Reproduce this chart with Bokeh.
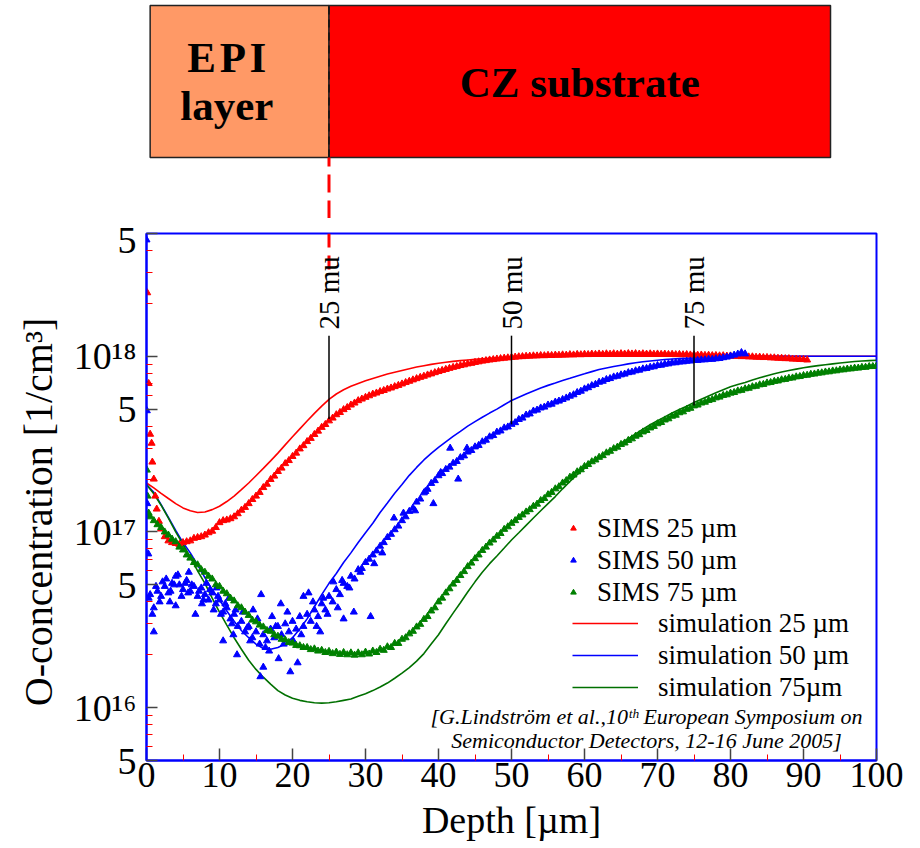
import numpy as np
from bokeh.plotting import figure
from bokeh.layouts import column
from bokeh.models import Range1d, FixedTicker, Legend, LegendItem
from bokeh.core.properties import value
from bokeh.embed import file_html
from bokeh.resources import INLINE

UNIT = 1e16
FONT = "Liberation Serif"

# ---------------- data (concentrations in units of 1e16 1/cm^3) ----------------
sim_depth = list(range(0, 101))
sim_25 = [19.0, 17.8, 16.6, 15.5, 14.5, 13.7, 13.2, 12.9, 13.0, 13.4,
          14.0, 14.9, 16.0, 17.4, 19.0, 20.9, 23.0, 25.4, 28.1, 31.3,
          34.8, 38.6, 42.8, 47.3, 52.0, 56.8, 61.0, 64.5, 67.5, 70.0,
          72.5, 74.8, 77.0, 79.2, 81.2, 83.1, 85.0, 86.8, 88.4, 89.9,
          91.2, 92.4, 93.5, 94.5, 95.3, 96.1, 96.8, 97.4, 97.9, 98.3,
          98.7, 99.0, 99.2, 99.4, 99.6, 99.7, 99.8, 99.9, 100.0, 100.0,
          100.0, 100.0, 100.0, 100.0, 100.0, 100.0, 100.0, 100.0, 100.0, 100.0,
          100.0, 100.0, 100.0, 100.0, 100.0, 100.0, 100.0, 100.0, 100.0, 100.0,
          100.0, 100.0, 100.0, 100.0, 100.0, 100.0, 100.0, 100.0, 100.0, 100.0,
          100.0, 100.0, 100.0, 100.0, 100.0, 100.0, 100.0, 100.0, 100.0, 100.0, 100.0]
sim_50 = [18.6, 16.8, 14.3, 12.1, 10.2, 8.7, 7.6, 6.5, 5.5, 4.7,
          4.1, 3.55, 3.1, 2.75, 2.5, 2.3, 2.17, 2.15, 2.2, 2.3,
          2.5, 2.8, 3.2, 3.75, 4.4, 5.1, 5.8, 6.7, 7.6, 8.7,
          9.9, 11.2, 12.9, 14.6, 16.6, 18.6, 21.0, 23.3, 25.7, 28.0,
          30.3, 32.6, 35.0, 37.4, 40.0, 42.5, 45.0, 47.5, 50.0, 53.0,
          56.0, 58.5, 61.0, 63.5, 66.0, 68.3, 70.5, 72.8, 75.0, 77.3,
          79.5, 81.8, 84.0, 85.8, 87.5, 89.0, 90.5, 91.8, 93.0, 94.0,
          95.0, 95.8, 96.5, 97.0, 97.5, 98.0, 98.5, 98.9, 99.3, 99.6,
          99.8, 99.9, 100.0, 100.0, 100.0, 100.0, 100.0, 100.0, 100.0, 100.0,
          100.0, 100.0, 100.0, 100.0, 100.0, 100.0, 100.0, 100.0, 100.0, 100.0, 100.0]
sim_75 = [18.6, 16.5, 14.2, 12.0, 10.0, 8.5, 7.2, 6.0, 5.1, 4.2,
          3.5, 2.95, 2.5, 2.15, 1.86, 1.65, 1.49, 1.36, 1.25, 1.18,
          1.13, 1.10, 1.08, 1.065, 1.06, 1.065, 1.08, 1.10, 1.12, 1.16,
          1.20, 1.25, 1.31, 1.38, 1.47, 1.57, 1.69, 1.84, 2.03, 2.3,
          2.6, 3.0, 3.45, 3.95, 4.55, 5.2, 5.9, 6.6, 7.3, 8.1,
          9.0, 9.9, 10.9, 12.0, 13.2, 14.5, 15.9, 17.6, 19.4, 21.2,
          23.0, 24.8, 26.5, 28.2, 30.0, 32.0, 34.0, 36.2, 38.5, 40.8,
          43.0, 45.2, 47.5, 49.8, 52.0, 54.5, 57.0, 59.5, 62.0, 64.5,
          67.0, 69.0, 71.0, 73.3, 75.5, 77.5, 79.5, 81.3, 83.0, 84.5,
          86.0, 87.3, 88.5, 89.5, 90.5, 91.5, 92.5, 93.3, 94.0, 94.5, 95.0]

# SIMS 25 um: surface spike, then bulk every 0.5 um from 2.0 to 90.5
sims25_surface_depth = [0.1, 0.3, 0.5, 0.7, 0.8, 1.0, 1.2, 1.4, 1.7]
sims25_surface = [230.0, 70.0, 36.0, 32.0, 25.0, 20.0, 16.0, 13.5, 11.5]
sims25_bulk = [10.4, 9.4, 8.9, 8.7, 8.6, 8.5, 8.7, 8.8, 8.9, 9.2,
               9.3, 9.4, 9.6, 9.9, 10.1, 10.6, 11.3, 11.6, 11.7, 11.9,
               12.2, 12.7, 13.3, 13.8, 14.5, 15.3, 16.0, 16.8, 17.9, 18.7,
               19.9, 20.8, 22.1, 23.1, 24.5, 25.5, 26.9, 28.1, 29.7, 31.0,
               32.7, 34.1, 35.9, 37.5, 39.4, 40.9, 42.9, 44.5, 46.5, 47.9,
               49.7, 51.1, 52.8, 54.2, 55.9, 57.1, 58.4, 59.6, 60.9, 61.8,
               63.0, 63.9, 65.1, 66.0, 67.2, 68.3, 69.6, 70.9, 72.1, 73.4,
               74.6, 75.9, 77.0, 78.3, 79.4, 80.7, 81.9, 83.1, 84.2, 85.4,
               86.5, 87.4, 88.6, 89.4, 90.5, 91.2, 92.3, 93.0, 93.9, 94.5,
               95.3, 95.8, 96.5, 97.0, 97.6, 98.0, 98.6, 98.9, 99.4, 99.6,
               100.1, 100.2, 100.6, 100.5, 101.0, 100.8, 101.3, 101.1, 101.6, 101.4,
               101.9, 101.6, 102.2, 101.8, 102.5, 102.1, 102.7, 102.3, 102.9, 102.5,
               103.1, 102.6, 103.3, 102.8, 103.4, 102.9, 103.5, 103.0, 103.6, 103.1,
               103.5, 103.0, 103.4, 102.9, 103.3, 102.8, 103.1, 102.6, 102.9, 102.4,
               102.7, 102.2, 102.5, 102.0, 102.3, 101.8, 102.0, 101.5, 101.7, 101.2,
               101.4, 100.9, 101.1, 100.6, 100.8, 100.3, 100.5, 100.0, 100.1, 99.6,
               99.7, 99.2, 99.3, 98.8, 98.9, 98.4, 98.5, 98.0, 98.0, 97.5,
               97.5, 97.0, 97.0, 96.4, 96.4, 95.9, 95.8, 95.3]
sims25_bulk_start = 2.0

# SIMS 50 um
sims50_surface_depth = [0.0, 0.05, 0.1, 0.15, 0.25]
sims50_surface = [460.0, 49.0, 14.5, 12.5, 7.5]
sims50_bulk = [4.4, 3.7, 4.6, 4.3, 4.9, 4.5, 5.1, 5.6, 5.0, 4.7,
               5.3, 4.6, 4.9, 4.3, 4.8, 4.4, 4.1, 4.5, 3.9, 4.1,
               3.5, 3.7, 3.2, 3.4, 2.9, 3.1, 2.7, 2.9, 2.5, 2.7,
               2.3, 2.6, 2.4, 2.8, 2.5, 2.9, 2.6, 3.0, 2.7, 3.1,
               2.8, 3.3, 2.9, 3.4, 3.1, 3.6, 3.3, 3.9, 3.6, 4.3,
               4.0, 4.7, 4.4, 5.1, 4.9, 5.6, 5.4, 6.1, 6.2, 6.7,
               7.0, 7.4, 7.8, 8.3, 8.7, 9.3, 9.7, 10.3, 10.8, 11.6,
               12.2, 13.1, 13.7, 14.8, 15.4, 16.7, 17.5, 18.9, 19.6, 20.9,
               21.5, 22.7, 23.4, 24.6, 25.2, 26.5, 27.1, 28.5, 29.1, 30.5,
               31.1, 32.6, 33.3, 34.8, 35.4, 37.0, 37.6, 39.1, 39.6, 41.0,
               41.9, 43.7, 44.5, 46.3, 47.0, 48.8, 49.4, 50.8, 51.4, 52.8,
               53.4, 54.9, 55.6, 56.8, 57.9, 59.3, 60.4, 62.2, 63.3, 65.2,
               66.3, 68.1, 69.2, 71.2, 72.1, 73.8, 74.7, 76.3, 77.0, 78.4,
               79.2, 80.7, 81.3, 82.7, 83.4, 84.8, 85.3, 86.7, 87.2, 88.6,
               89.0, 90.2, 90.6, 91.7, 91.9, 92.8, 93.0, 93.8, 94.0, 94.7,
               94.8, 95.4, 95.5, 96.2, 96.1, 96.8, 97.2, 98.2, 99.0, 100.3,
               101.6, 103.0, 105.0, 103.2]
sims50_bulk_start = 0.5
sims50_scatter_depth = [0.8, 1.0, 2.2, 4.0, 5.8, 6.7, 8.2, 9.6, 10.5, 11.3,
                        12.4, 13.8, 14.6, 15.6, 15.7, 16.0, 17.2, 18.1, 18.4, 19.7,
                        20.7, 21.5, 22.2, 23.8, 24.8, 26.2, 27.0, 28.4, 30.7, 33.9,
                        39.3, 41.6, 42.7, 43.9, 3.2, 7.6, 11.9, 16.8, 20.1, 25.6,
                        0.3, 1.3, 1.8, 2.7, 3.3, 3.8, 4.3, 4.8, 5.3, 5.7,
                        6.2, 7.2, 7.8, 8.7, 9.2, 9.8, 10.2, 10.8, 11.7, 12.2,
                        13.2, 14.2, 15.2, 16.3, 17.7, 18.8, 19.3, 21.2, 22.8, 23.3,
                        24.2, 26.8, 27.8, 29.3, 31.2, 32.3, 35.2, 36.8, 38.2, 40.3]
sims50_scatter = [3.4, 2.7, 5.2, 3.8, 5.9, 3.4, 5.1, 4.8, 2.4, 4.2,
                  2.0, 2.85, 3.6, 1.5, 4.4, 1.7, 3.3, 1.9, 3.9, 1.6,
                  1.8, 4.3, 4.5, 2.7, 3.4, 3.7, 3.2, 3.5, 3.3, 12.0,
                  14.5, 30.0, 20.0, 30.0, 4.0, 3.9, 2.6, 2.1, 2.4, 5.2,
                  4.2, 4.9, 4.0, 5.4, 4.6, 5.0, 5.7, 4.3, 5.1, 4.5,
                  5.0, 4.6, 4.1, 4.7, 3.6, 4.3, 3.4, 3.9, 3.0, 3.6,
                  3.5, 2.4, 3.2, 2.2, 2.9, 2.3, 3.5, 2.6, 4.0, 2.9,
                  4.2, 5.3, 4.8, 5.9, 6.6, 7.6, 12.8, 13.2, 17.0, 21.8]

# SIMS 75 um
sims75_surface_depth = [0.05, 0.15, 0.3]
sims75_surface = [22.5, 16.0, 12.8]
sims75_bulk = [12.2, 11.6, 11.0, 10.6, 10.0, 9.6, 9.1, 8.8, 8.2, 7.9,
               7.4, 7.1, 6.7, 6.5, 6.1, 5.9, 5.6, 5.4, 5.0, 4.9,
               4.6, 4.45, 4.2, 4.05, 3.8, 3.7, 3.5, 3.35, 3.15, 3.08,
               2.95, 2.88, 2.75, 2.72, 2.6, 2.55, 2.45, 2.43, 2.35, 2.33,
               2.26, 2.25, 2.2, 2.2, 2.14, 2.16, 2.1, 2.12, 2.06, 2.09,
               2.03, 2.07, 2.01, 2.06, 2.0, 2.05, 1.99, 2.05, 2.0, 2.07,
               2.02, 2.1, 2.06, 2.15, 2.12, 2.22, 2.2, 2.32, 2.32, 2.45,
               2.5, 2.63, 2.72, 2.88, 2.98, 3.18, 3.3, 3.55, 3.7, 4.0,
               4.2, 4.5, 4.75, 5.05, 5.3, 5.65, 5.95, 6.35, 6.65, 7.05,
               7.4, 7.85, 8.2, 8.65, 9.0, 9.45, 9.8, 10.35, 10.7, 11.2,
               11.6, 12.1, 12.5, 13.0, 13.4, 14.0, 14.4, 15.1, 15.5, 16.3,
               16.8, 17.6, 18.1, 19.0, 19.6, 20.5, 21.1, 22.0, 22.6, 23.6,
               24.2, 25.1, 25.7, 26.6, 27.2, 28.2, 28.8, 29.8, 30.4, 31.5,
               32.1, 33.2, 33.9, 35.1, 35.8, 37.1, 37.8, 39.1, 39.9, 41.3,
               42.0, 43.4, 44.1, 45.6, 46.2, 47.7, 48.3, 49.9, 50.6, 52.2,
               52.8, 54.2, 54.8, 56.1, 56.7, 58.0, 58.6, 59.9, 60.4, 61.7,
               62.2, 63.5, 64.0, 65.3, 65.8, 67.1, 67.5, 68.8, 69.2, 70.5,
               70.9, 72.0, 72.4, 73.5, 73.9, 75.0, 75.3, 76.4, 76.7, 77.7,
               78.0, 79.0, 79.3, 80.2, 80.5, 81.4, 81.6, 82.5, 82.7, 83.6,
               83.8, 84.6, 84.8, 85.6, 85.7, 86.5, 86.6, 87.4, 87.5, 88.2]
sims75_bulk_start = 0.5

# depth markers ("25 mu" ...) and layer structure
marker_depth = [25, 50, 75]
marker_label = ["25 mu", "50 mu", "75 mu"]
marker_bottom = [44.0, 41.0, 52.5]
MARKER_TOP = 131.0
MARKER_TEXT = 142.0

layer_name = ["EPI", "CZ substrate"]
layer_left = [0.5, 25.0]
layer_right = [25.0, 93.7]
layer_color = ["#FF9966", "#FF0000"]
epi_thickness = 25.0

x_tick_values = [0, 10, 20, 30, 40, 50, 60, 70, 80, 90, 100]
x_minor_values = [5, 15, 25, 35, 45, 55, 65, 75, 85, 95]
y_tick_values = [5e15, 1e16, 5e16, 1e17, 5e17, 1e18, 5e18]
y_tick_labels = ["5", "10\u00b9\u2076", "5", "10\u00b9\u2077", "5", "10\u00b9\u2078", "5"]
y_minor_values = [m * 10.0 ** e for e in (15, 16, 17, 18) for m in (2, 3, 4, 6, 7, 8, 9)
                  if 5e15 < m * 10.0 ** e < 5e18]

RED, BLUE, GREEN, DGREEN = "#FF0000", "#0000FF", "#008000", "#007000"


def scale(vals):
    return [v * UNIT for v in vals]


def bulk_depth(start, n):
    return [start + 0.5 * i for i in range(n)]


s25_x = sims25_surface_depth + bulk_depth(sims25_bulk_start, len(sims25_bulk))
s25_y = scale(sims25_surface + sims25_bulk)
s50_x = sims50_surface_depth + bulk_depth(sims50_bulk_start, len(sims50_bulk)) + sims50_scatter_depth
s50_y = scale(sims50_surface + sims50_bulk + sims50_scatter)
s75_x = sims75_surface_depth + bulk_depth(sims75_bulk_start, len(sims75_bulk))
s75_y = scale(sims75_surface + sims75_bulk)

# ---------------- top banner figure ----------------
W = 920
LEFT, RIGHT = 146, 44
TOP_H = 218
x_range = Range1d(0, 100)
top = figure(width=W, height=TOP_H, x_range=x_range, y_range=Range1d(0, TOP_H),
             x_axis_type=None, y_axis_type=None, output_backend="svg",
             toolbar_location=None, min_border_left=LEFT, min_border_right=RIGHT,
             min_border_top=0, min_border_bottom=0)
top.outline_line_color = None
top.grid.visible = False
top.quad(left=layer_left, right=layer_right, bottom=61, top=213,
         fill_color=layer_color, line_color="#222222", line_width=1.5)
top.segment(x0=[epi_thickness], y0=[61], x1=[epi_thickness], y1=[213],
            line_color="#111111", line_width=1.5, line_dash="8 5")
top.segment(x0=[epi_thickness], y0=[0], x1=[epi_thickness], y1=[61],
            line_color=RED, line_width=3, line_dash="18 8")
top.text(x=[11.0, 11.0], y=[161, 113], text=["E\u200aP\u200aI", "layer"],
         text_font=value(FONT), text_font_style="bold", text_font_size="43px",
         text_align="center", text_baseline="middle", text_color="black")
top.text(x=[(layer_left[1] + layer_right[1]) / 2], y=[136], text=[layer_name[1]],
         text_font=value(FONT), text_font_style="bold", text_font_size="43px",
         text_align="center", text_baseline="middle", text_color="black")

# ---------------- main figure ----------------
p = figure(width=W, height=848 - TOP_H, x_range=x_range, y_range=Range1d(5e15, 5e18),
           y_axis_type="log", output_backend="svg", toolbar_location=None,
           min_border_left=LEFT, min_border_right=RIGHT, min_border_top=15,
           min_border_bottom=88)
p.grid.visible = False
p.outline_line_color = BLUE
p.outline_line_width = 2

for ax in (p.xaxis[0], p.yaxis[0]):
    ax.axis_line_color = BLUE
    ax.axis_line_width = 2
    ax.major_tick_out = 0
    ax.minor_tick_out = 0
    ax.major_tick_line_color = "#444444"
    ax.major_tick_line_width = 1.5
    ax.minor_tick_line_color = RED
    ax.minor_tick_line_width = 1
    ax.major_label_text_font = FONT
    ax.axis_label_text_font = FONT
    ax.axis_label_text_font_style = "normal"
    ax.major_label_text_color = "black"
    ax.axis_label_text_color = "black"

p.xaxis.ticker = FixedTicker(ticks=x_tick_values, minor_ticks=x_minor_values)
p.xaxis.major_tick_in = 12
p.xaxis.minor_tick_in = 6
p.xaxis.major_label_text_font_size = "36px"
p.xaxis.major_label_standoff = 2
p.xaxis.axis_label = "Depth [\u00b5m]"
p.xaxis.axis_label_text_font_size = "38px"
p.xaxis.axis_label_standoff = 9

p.yaxis.ticker = FixedTicker(ticks=y_tick_values, minor_ticks=y_minor_values)
p.yaxis.major_label_overrides = dict(zip(y_tick_values, y_tick_labels))
p.yaxis.major_tick_in = 11
p.yaxis.minor_tick_in = 6
p.yaxis.major_label_text_font_size = "38px"
p.yaxis.major_label_standoff = 10
p.yaxis.axis_label = "O-concentration [1/cm\u00b3]\u00a0\u00a0\u00a0"
p.yaxis.axis_label_text_font_size = "40px"
p.yaxis.axis_label_standoff = 10

# red dashed continuation of the EPI boundary
p.segment(x0=[epi_thickness], y0=[5e18], x1=[epi_thickness], y1=[3.1e18],
          line_color=RED, line_width=3, line_dash="14 8")

# simulations
l25 = p.line(sim_depth, scale(sim_25), line_color=RED, line_width=1.6)
l50 = p.line(sim_depth, scale(sim_50), line_color=BLUE, line_width=1.6)
l75 = p.line(sim_depth, scale(sim_75), line_color=DGREEN, line_width=1.6)

# SIMS data
r25 = p.scatter(s25_x, s25_y, marker="triangle", size=7, fill_color=RED, line_color=RED)
r50 = p.scatter(s50_x, s50_y, marker="triangle", size=7, fill_color=BLUE, line_color=BLUE)
r75 = p.scatter(s75_x, s75_y, marker="triangle", size=7, fill_color=GREEN, line_color=GREEN)

# depth markers
p.segment(x0=marker_depth, y0=scale(marker_bottom), x1=marker_depth,
          y1=[MARKER_TOP * UNIT] * 3, line_color="black", line_width=1.5)
p.text(x=marker_depth, y=[MARKER_TEXT * UNIT] * 3, text=marker_label, angle=np.pi / 2,
       text_font=value(FONT), text_font_size="29px", text_align="left",
       text_baseline="middle", text_color="black")

# citation
p.text(x=[68.5, 68.5], y=[8.9e15, 6.5e15],
       text=["[G.Lindstr\u00f6m et al.,10\u1d57\u02b0 European Symposium on",
             "Semiconductor Detectors, 12-16 June 2005]"],
       text_font=value(FONT), text_font_style="italic", text_font_size="22px",
       text_align="center", text_baseline="middle", text_color="black")

leg1 = Legend(items=[LegendItem(label="SIMS 25 \u00b5m", renderers=[r25]),
                     LegendItem(label="SIMS 50 \u00b5m", renderers=[r50]),
                     LegendItem(label="SIMS 75 \u00b5m", renderers=[r75])],
              location=(420, 152))
leg2 = Legend(items=[LegendItem(label="simulation 25 \u00b5m", renderers=[l25]),
                     LegendItem(label="simulation 50 \u00b5m", renderers=[l50]),
                     LegendItem(label="simulation 75\u00b5m", renderers=[l75])],
              location=(426, 57))
for lg, gw, st in ((leg1, 14, 17), (leg2, 66, 20)):
    lg.border_line_color = None
    lg.background_fill_alpha = 0
    lg.padding = 0
    lg.margin = 0
    lg.spacing = 0
    lg.label_height = 32
    lg.glyph_height = 32
    lg.glyph_width = gw
    lg.label_standoff = st
    lg.label_text_font = FONT
    lg.label_text_font_size = "27px"
    lg.label_text_color = "black"
    p.add_layout(lg)

layout = column(top, p, spacing=0)
open("out.html", "w").write(file_html(layout, INLINE))
